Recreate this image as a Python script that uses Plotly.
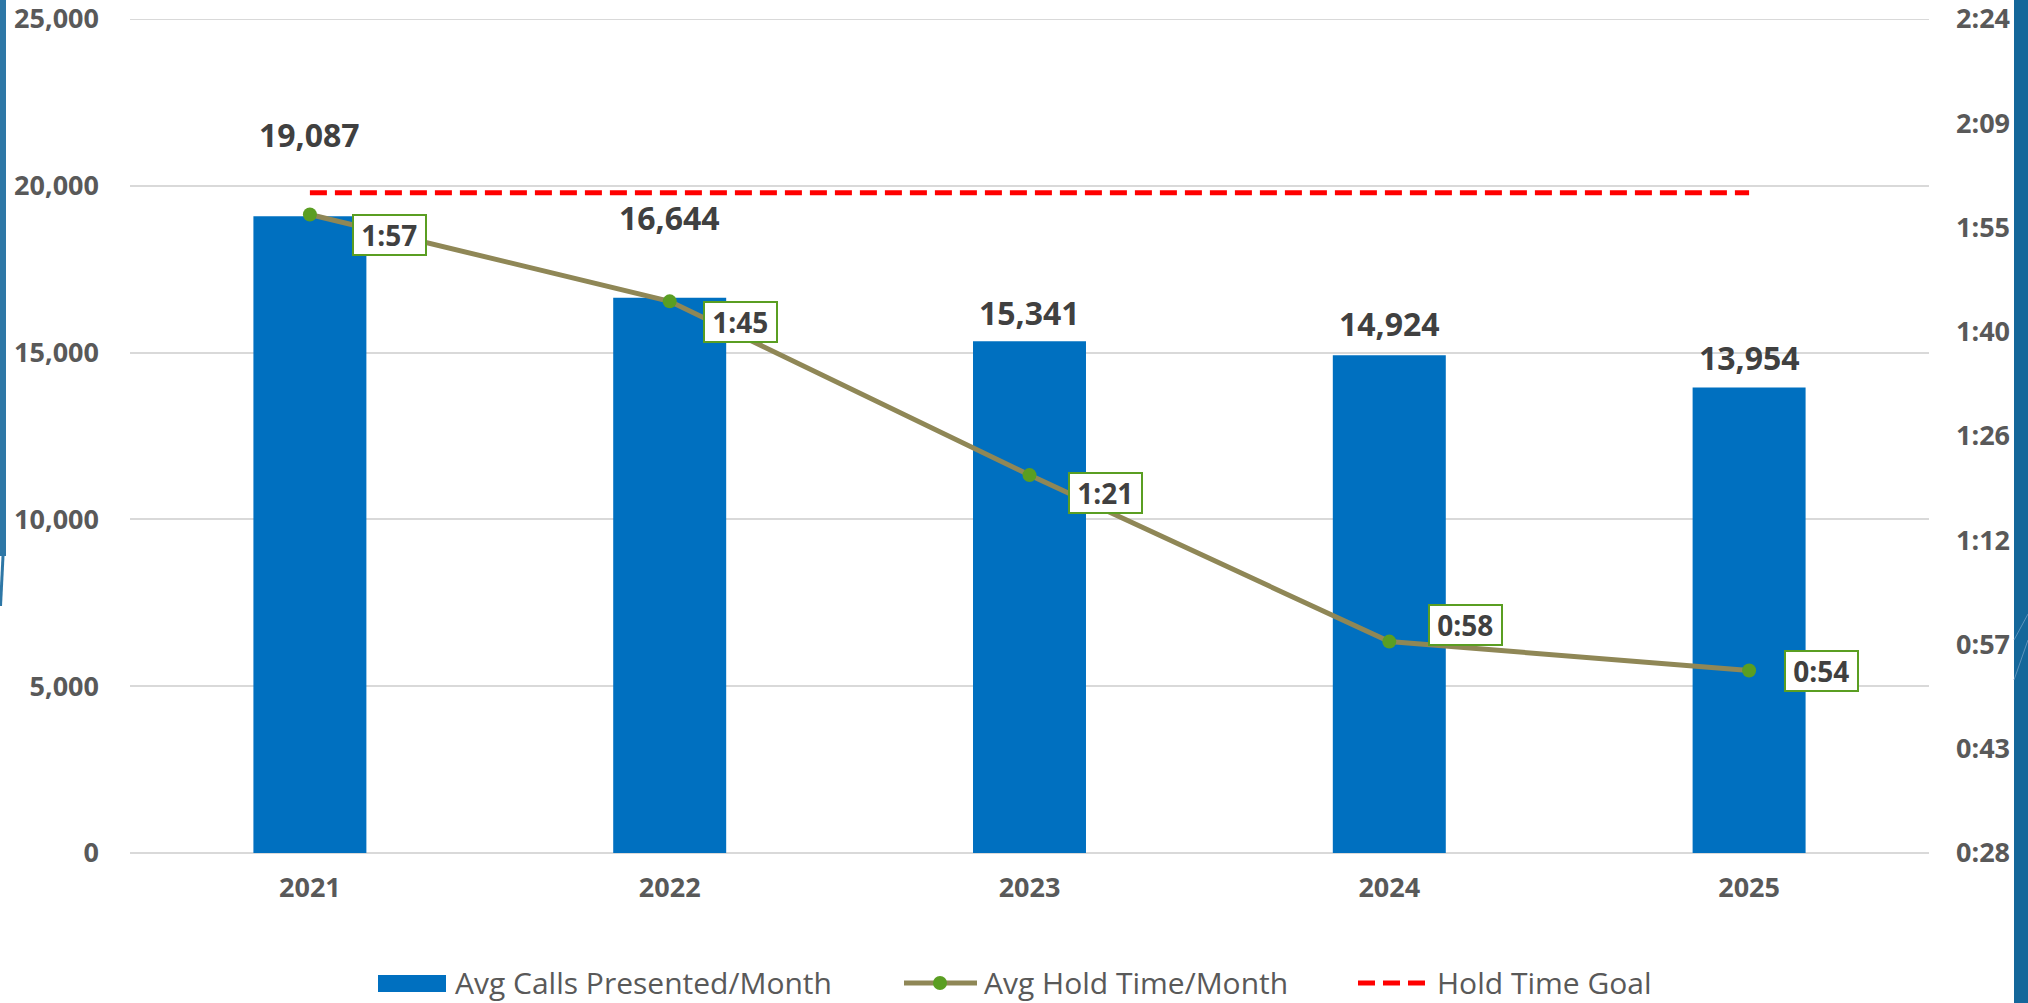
import plotly.graph_objects as go

# ---- data ----
years = ["2021", "2022", "2023", "2024", "2025"]
avg_calls = [19087, 16644, 15341, 14924, 13954]
hold_seconds = [117, 105, 81, 58, 54]          # 1:57, 1:45, 1:21, 0:58, 0:54
hold_labels = ["1:57", "1:45", "1:21", "0:58", "0:54"]
goal_seconds = [120, 120, 120, 120, 120]        # 2:00
right_tickvals = [28.8, 43.2, 57.6, 72.0, 86.4, 100.8, 115.2, 129.6, 144.0]
right_ticktext = ["0:28", "0:43", "0:57", "1:12", "1:26", "1:40", "1:55", "2:09", "2:24"]
series_names = ["Avg Calls Presented/Month", "Avg Hold Time/Month", "Hold Time Goal"]

# ---- style (label offsets) ----
bar_label_yshift = [82, 80, 29, 32, 30]
hold_label_xshift = [80, 71, 76, 76, 72]
hold_label_yshift = [-21, -21, -18, 17, 0]

W, H = 2028, 1003
ML, MR, MT, MB = 130, 99, 19, 150
PW, PH = W - ML - MR, H - MT - MB

FONT = "Open Sans"
BLUE = "#0070C0"
OLIVE = "#8F8756"
GREEN = "#5A9E22"
RED = "#FF0000"
GRID = "#D9D9D9"

fig = go.Figure()
fig.add_trace(go.Bar(
    x=years, y=avg_calls, name=series_names[0],
    marker=dict(color=BLUE, line=dict(width=0)), width=0.314,
))
fig.add_trace(go.Scatter(
    x=years, y=hold_seconds, name=series_names[1], yaxis="y2",
    mode="lines+markers",
    line=dict(color=OLIVE, width=5),
    marker=dict(color=GREEN, size=14),
))
fig.add_trace(go.Scatter(
    x=years, y=goal_seconds, name=series_names[2], yaxis="y2",
    mode="lines",
    line=dict(color=RED, width=5, dash="17px,8px"),
))


def px_x(px):
    return (px - ML) / PW


def px_y(py):
    return (H - MB - py) / PH


annotations = []
# category axis: annotations placed by category index
for i, v in enumerate(avg_calls):
    annotations.append(dict(
        x=i, y=v, xref="x", yref="y", text=f"<b>{v:,}</b>", showarrow=False,
        yanchor="middle", yshift=bar_label_yshift[i],
        font=dict(family=FONT, size=32, color="#404040"),
    ))
for i, v in enumerate(hold_seconds):
    annotations.append(dict(
        x=i, y=v, xref="x", yref="y2",
        text=f"\u00a0<b>{hold_labels[i]}</b>\u00a0", showarrow=False,
        xshift=hold_label_xshift[i], yshift=hold_label_yshift[i],
        bgcolor="white", bordercolor=GREEN, borderwidth=2, borderpad=0,
        font=dict(family=FONT, size=28, color="#404040"),
    ))

# manual legend texts
LEG_Y = px_y(983)
for name, xpx in zip(series_names, [453, 982, 1435]):
    annotations.append(dict(
        x=px_x(xpx), y=LEG_Y, xref="paper", yref="paper", text=name,
        showarrow=False, xanchor="left", yanchor="middle",
        font=dict(family=FONT, size=30, color="#595959"),
    ))

shapes = [
    # top gridline (plotly clips gridlines at the range edge)
    dict(type="line", xref="paper", yref="y", x0=0, x1=1, y0=25000, y1=25000,
         line=dict(color=GRID, width=2), layer="below"),
    # left decorative strip
    dict(type="rect", xref="paper", yref="paper",
         x0=px_x(0), x1=px_x(6), y0=px_y(556), y1=px_y(0),
         fillcolor="#2E77A6", line=dict(width=0), layer="above"),
    dict(type="line", xref="paper", yref="paper",
         x0=px_x(3), y0=px_y(556), x1=px_x(0.5), y1=px_y(606),
         line=dict(color="#2E77A6", width=3), layer="above"),
    # right decorative strip
    dict(type="rect", xref="paper", yref="paper",
         x0=px_x(2014), x1=px_x(2030), y0=px_y(H), y1=px_y(0),
         fillcolor="#14679A", line=dict(width=0), layer="above"),
    dict(type="line", xref="paper", yref="paper",
         x0=px_x(2014), y0=px_y(640), x1=px_x(2028), y1=px_y(614),
         line=dict(color="#5C93BB", width=1), layer="above"),
    dict(type="line", xref="paper", yref="paper",
         x0=px_x(2014), y0=px_y(680), x1=px_x(2028), y1=px_y(640),
         line=dict(color="#5C93BB", width=1), layer="above"),
    # legend symbols
    dict(type="rect", xref="paper", yref="paper",
         x0=px_x(378), x1=px_x(446), y0=px_y(992), y1=px_y(975),
         fillcolor=BLUE, line=dict(width=0)),
    dict(type="line", xref="paper", yref="paper",
         x0=px_x(904), x1=px_x(977), y0=LEG_Y, y1=LEG_Y,
         line=dict(color=OLIVE, width=5)),
    dict(type="circle", xref="paper", yref="paper",
         x0=px_x(933), x1=px_x(947), y0=px_y(990), y1=px_y(976),
         fillcolor=GREEN, line=dict(width=0)),
    dict(type="line", xref="paper", yref="paper",
         x0=px_x(1358), x1=px_x(1425), y0=LEG_Y, y1=LEG_Y,
         line=dict(color=RED, width=5, dash="17px,8px")),
]

tick_font = dict(family=FONT, size=27, color="#595959", weight="bold")

fig.update_layout(
    width=W, height=H,
    margin=dict(l=ML, r=MR, t=MT, b=MB, autoexpand=False),
    paper_bgcolor="white", plot_bgcolor="white",
    font=dict(family=FONT, color="#595959"),
    showlegend=False,
    xaxis=dict(type="category", range=[-0.5, 4.5], showgrid=False, showline=False,
               ticks="", tickfont=tick_font, ticklabelstandoff=16),
    yaxis=dict(range=[0, 25000], dtick=5000, tickformat=",", showgrid=True,
               gridcolor=GRID, gridwidth=2, zeroline=True, zerolinecolor=GRID,
               zerolinewidth=2, showline=False, ticks="",
               tickfont=tick_font, ticklabelstandoff=30, ticklabeloverflow="allow"),
    yaxis2=dict(overlaying="y", side="right", range=[28.8, 144],
                tickvals=right_tickvals, ticktext=right_ticktext, showgrid=False,
                zeroline=False, showline=False, ticks="",
                tickfont=tick_font, ticklabelstandoff=26, ticklabeloverflow="allow"),
    annotations=annotations,
    shapes=shapes,
)

fig.write_html("out.html", config={"displayModeBar": False},
               post_script="document.body.style.margin='0';document.body.style.overflow='hidden';")
